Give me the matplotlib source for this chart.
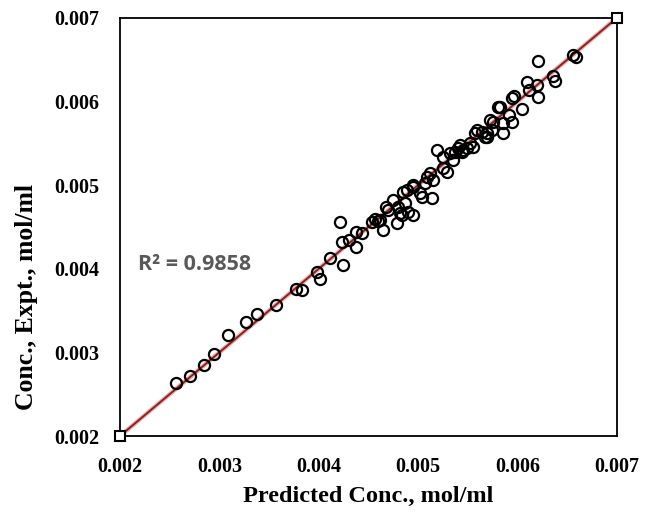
import numpy as np
import matplotlib.pyplot as plt

pred = [0.00256, 0.00270, 0.00285, 0.00295, 0.00309, 0.00327, 0.00338, 0.00357,
        0.00377, 0.00383, 0.00398, 0.00401, 0.00411, 0.00424, 0.00421, 0.00423,
        0.00431, 0.00438, 0.00438, 0.00444, 0.00454, 0.00457, 0.00462, 0.00465,
        0.00468, 0.00475, 0.00479, 0.00482, 0.00480, 0.00487, 0.00490, 0.00495,
        0.00489, 0.00495, 0.00502, 0.00504, 0.00514, 0.00507, 0.00509, 0.00512,
        0.00515, 0.00519, 0.00525, 0.00529, 0.00525, 0.00532, 0.00535, 0.00537,
        0.00542, 0.00545, 0.00549, 0.00552, 0.00555, 0.00557, 0.00559, 0.00564,
        0.00569, 0.00569, 0.00572, 0.00574, 0.00575, 0.00580, 0.00582, 0.00585,
        0.00585, 0.00592, 0.00595, 0.00595, 0.00597, 0.00605, 0.00610, 0.00612,
        0.00620, 0.00621, 0.00621, 0.00636, 0.00638, 0.00656, 0.00659, 0.00567,
        0.00484, 0.00485, 0.00495, 0.00540, 0.00544, 0.00460, 0.00470]
expt = [0.00263, 0.00272, 0.00285, 0.00298, 0.00321, 0.00336, 0.00346, 0.00357,
        0.00376, 0.00375, 0.00396, 0.00388, 0.00413, 0.00405, 0.00456, 0.00432,
        0.00434, 0.00444, 0.00426, 0.00443, 0.00456, 0.00460, 0.00458, 0.00446,
        0.00474, 0.00482, 0.00455, 0.00467, 0.00474, 0.00479, 0.00468, 0.00464,
        0.00494, 0.00498, 0.00491, 0.00486, 0.00485, 0.00503, 0.00510, 0.00515,
        0.00506, 0.00542, 0.00521, 0.00516, 0.00534, 0.00539, 0.00530, 0.00540,
        0.00548, 0.00542, 0.00545, 0.00550, 0.00546, 0.00562, 0.00566, 0.00564,
        0.00558, 0.00562, 0.00578, 0.00566, 0.00576, 0.00594, 0.00594, 0.00574,
        0.00562, 0.00584, 0.00576, 0.00604, 0.00607, 0.00591, 0.00623, 0.00614,
        0.00620, 0.00606, 0.00649, 0.00631, 0.00625, 0.00656, 0.00653, 0.00558,
        0.00464, 0.00492, 0.00500, 0.00545, 0.00540, 0.00457, 0.00470]
ideal = [0.002, 0.007]
r2_text = 'R² = 0.9858'

serif = ['Liberation Serif', 'DejaVu Serif']

fig = plt.figure(figsize=(6.59, 5.13), dpi=100)
ax = fig.add_axes([0.182, 0.150, 0.754, 0.815])

ax.plot(ideal, ideal, color='#e08080', lw=3.2, alpha=0.6, zorder=2)
ax.plot(ideal, ideal, color='#8b1f1f', lw=1.4, zorder=3,
        marker='s', ms=7, mfc='white', mec='black', mew=1.5, clip_on=False)
ax.plot(pred, expt, 'o', ms=8, mfc='none', mec='black', mew=1.6, zorder=4)

ax.set_xlim(0.002, 0.007)
ax.set_ylim(0.002, 0.007)
ticks = [0.002, 0.003, 0.004, 0.005, 0.006, 0.007]
ax.set_xticks(ticks)
ax.set_yticks(ticks)
ax.set_xticklabels(['%.3f' % t for t in ticks])
ax.set_yticklabels(['%.3f' % t for t in ticks])
ax.tick_params(length=0, pad=15, labelsize=14.5)
for lab in ax.get_xticklabels() + ax.get_yticklabels():
    lab.set_family(serif)
    lab.set_fontweight('bold')
for s in ax.spines.values():
    s.set_linewidth(1.3)

ax.set_xlabel('Predicted Conc., mol/ml', family=serif, fontweight='bold', fontsize=17.5)
ax.set_ylabel('Conc., Expt., mol/ml', family=serif, fontweight='bold', fontsize=18.5)
ax.xaxis.set_label_coords(0.5, -0.12)
ax.yaxis.set_label_coords(-0.165, 0.333)

ax.text(0.036, 0.41, r2_text, transform=ax.transAxes, color='#595959',
        fontsize=15.5, fontweight='bold', family=['Open Sans', 'DejaVu Sans'],
        va='center', ha='left')

fig.savefig('out.png', dpi=100)
